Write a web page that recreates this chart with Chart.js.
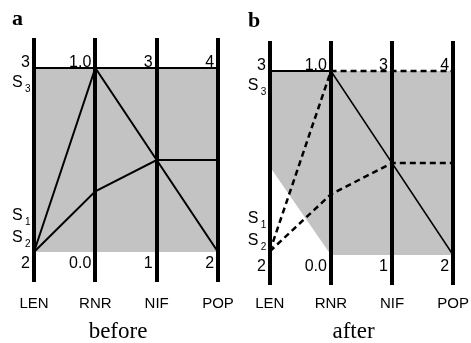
<!DOCTYPE html>
<html><head><meta charset="utf-8">
<script src="https://cdn.jsdelivr.net/npm/chart.js@4"></script>
<style>
html,body{margin:0;padding:0;background:#fff;}
.panel{position:absolute;top:0;height:343px;}
#pa{left:0;width:236px;}
#pb{left:236px;width:235px;}
</style></head><body>
<div class="panel" id="pa"><canvas id="chartA"></canvas></div>
<div class="panel" id="pb"><canvas id="chartB"></canvas></div>
<script>
// axes of the parallel coordinates
const axisNames = ['LEN', 'RNR', 'NIF', 'POP'];
const axisMin = [2, 0, 1, 2];
const axisMax = [3, 1, 3, 4];
const topLabels = ['3', '1.0', '3', '4'];
const bottomLabels = ['2', '0.0', '1', '2'];
const sSubs = ['3', '1', '2'];
const sLen = [2.92, 2.2, 2.08];   // LEN values where S labels sit

// before
const beforeTop = [3, 1.0, 3, 4];
const beforeA = [2, 1.0, 2, 2];
const beforeB = [2, 0.33, 2, 3];
const beforeShadeLow = [2, 0, 1, 2];
const beforeShadeHigh = [3, 1, 3, 4];

// after
const afterTop = [3, 1.0, null, null];
const afterA = [2.02, 1.0, 3, 4];
const afterB = [2.02, 0.33, 2, 3];
const afterC = [null, 1.0, 2, 2];
const afterShadeLow = [2.48, 0, 1, 2];
const afterShadeHigh = [3, 1, 3, 4];

const norm = (i, v) => (v - axisMin[i]) / (axisMax[i] - axisMin[i]);
const pts = arr => arr.map((v, i) => v == null ? null : { x: i, y: norm(i, v) }).filter(Boolean);

const gray = '#c3c3c3';
const sans = '"Liberation Sans", Arial, sans-serif';

function shade(high, low) {
  return [
    { data: pts(high), borderWidth: 0, pointRadius: 0, backgroundColor: gray, fill: '+1' },
    { data: pts(low), borderWidth: 0, pointRadius: 0, fill: false }
  ];
}
function line(arr, width, dash) {
  return { data: pts(arr), borderColor: '#000', borderWidth: width, borderDash: dash || [],
           pointRadius: 0, fill: false, tension: 0, borderCapStyle: 'butt' };
}

const textPlugin = {
  id: 'axisText',
  afterDraw(chart, args, o) {
    const c = chart.ctx, x = chart.scales.x, y = chart.scales.y;
    c.save();
    c.fillStyle = '#000';
    c.font = '16px ' + sans;
    c.textAlign = 'right';
    c.textBaseline = 'alphabetic';
    const yTop = y.getPixelForValue(1), yBot = y.getPixelForValue(0);
    axisNames.forEach((n, i) => {
      const px = x.getPixelForValue(i) - 4;
      c.fillText(topLabels[i], px, yTop - 1);
      c.fillText(bottomLabels[i], px, yBot + 16);
    });
    // S labels on LEN axis
    const lx = x.getPixelForValue(0);
    sLen.forEach((v, k) => {
      const py = y.getPixelForValue(norm(0, v));
      c.textAlign = 'left';
      c.textBaseline = 'middle';
      c.font = '16px ' + sans;
      c.fillText('S', lx - 22, py);
      c.font = '10px ' + sans;
      c.fillText(sSubs[k], lx - 9, py + 7);
    });
    // panel letter
    c.font = 'bold 22px "Liberation Serif", "Times New Roman", serif';
    c.textAlign = 'left';
    c.textBaseline = 'alphabetic';
    c.fillText(o.letter, 12, o.letterY);
    c.restore();
  }
};

function makeChart(id, datasets, cfg) {
  return new Chart(document.getElementById(id), {
    type: 'line',
    data: { datasets },
    options: {
      responsive: true, maintainAspectRatio: false, animation: false,
      layout: { padding: { top: cfg.top, bottom: 0, left: 0, right: 0 } },
      plugins: {
        legend: { display: false }, tooltip: { enabled: false },
        filler: { drawTime: 'beforeDraw' },
        axisText: { letter: cfg.letter, letterY: cfg.letterY }
      },
      scales: {
        x: {
          type: 'linear', min: -0.554, max: 3.293,
          afterBuildTicks: s => { s.ticks = axisNames.map((n, i) => ({ value: i })); },
          grid: { color: '#000', lineWidth: 4, drawTicks: true, tickLength: cfg.tickPad, tickColor: 'rgba(0,0,0,0)' },
          border: { display: false },
          ticks: {
            padding: 0, color: '#000', autoSkip: false, maxRotation: 0,
            font: { family: sans, size: 15 },
            callback: v => axisNames[v]
          },
          title: {
            display: true, text: cfg.title, color: '#000',
            font: { family: '"Liberation Serif", "Times New Roman", serif', size: 23, lineHeight: 1 },
            padding: { top: cfg.titlePad, bottom: 0 }
          }
        },
        y: { type: 'linear', display: false, min: -0.163, max: 1.163 }
      }
    },
    plugins: [textPlugin]
  });
}

makeChart('chartA', [
  ...shade(beforeShadeHigh, beforeShadeLow),
  line(beforeTop, 2),
  line(beforeA, 2),
  line(beforeB, 2)
], { top: 38, tickPad: 13, titlePad: 7, title: 'before', letter: 'a', letterY: 25 });

makeChart('chartB', [
  ...shade(afterShadeHigh, afterShadeLow),
  line(afterTop, 1.8),
  line(afterC, 1.5),
  line(afterA, 2.5, [6, 4]),
  line(afterB, 2.5, [6, 4])
], { top: 41, tickPad: 10, titlePad: 7, title: 'after', letter: 'b', letterY: 27 });
</script>
</body></html>
